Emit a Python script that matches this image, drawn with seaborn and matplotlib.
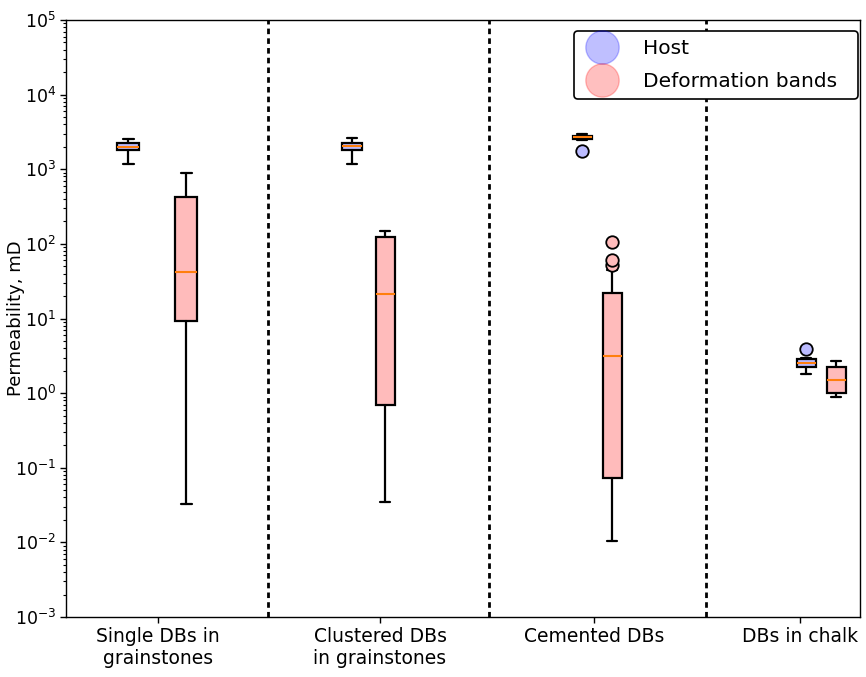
import matplotlib
matplotlib.use("Agg")
import matplotlib.pyplot as plt
import seaborn as sns
from matplotlib.lines import Line2D

# --- data ---
groups = ["Single DBs in\ngrainstones", "Clustered DBs\nin grainstones", "Cemented DBs", "DBs in chalk"]

host_whislo = [1170, 1170, 2500, 1.8]
host_q1 = [1800, 1800, 2560, 2.25]
host_med = [2000, 2050, 2700, 2.55]
host_q3 = [2250, 2250, 2800, 2.9]
host_whishi = [2550, 2600, 3000, 3.0]
host_fliers = [[], [], [1750], [3.9]]

db_whislo = [0.033, 0.035, 0.0105, 0.88]
db_q1 = [9.3, 0.7, 0.073, 1.0]
db_med = [42, 21, 3.1, 1.5]
db_q3 = [430, 125, 22, 2.25]
db_whishi = [900, 150, 45, 2.7]
db_fliers = [[], [], [52, 60, 105], []]

# layout (x in units of 100 px from the left spine)
host_pos = [0.62, 2.86, 5.16, 7.40]
db_pos = [1.20, 3.19, 5.46, 7.70]
box_w = [0.22, 0.19, 0.19, 0.19]
tick_pos = [0.92, 3.14, 5.28, 7.34]
sep_pos = [2.02, 4.23, 6.40]

host_color = "#bbbbff"
db_color = "#ffbbbb"


def make_stats(lo, q1, med, q3, hi, fl):
    return [dict(whislo=a, q1=b, med=c, q3=d, whishi=e, fliers=f)
            for a, b, c, d, e, f in zip(lo, q1, med, q3, hi, fl)]


sns.set_style("ticks")
plt.rcParams["font.family"] = ["DejaVu Sans"]
plt.rcParams["text.color"] = "black"
plt.rcParams["axes.labelcolor"] = "black"
plt.rcParams["xtick.color"] = "black"
plt.rcParams["ytick.color"] = "black"

fig = plt.figure(figsize=(8.66, 6.77), dpi=100)
ax = fig.add_axes([66 / 866, 60 / 677, 794 / 866, 597 / 677])

for stats, pos, col in [
    (make_stats(host_whislo, host_q1, host_med, host_q3, host_whishi, host_fliers), host_pos, host_color),
    (make_stats(db_whislo, db_q1, db_med, db_q3, db_whishi, db_fliers), db_pos, db_color),
]:
    ax.bxp(stats, positions=pos, widths=box_w, patch_artist=True, manage_ticks=False,
           boxprops=dict(facecolor=col, edgecolor="black", linewidth=1.6),
           medianprops=dict(color="#ff7f0e", linewidth=1.5),
           whiskerprops=dict(color="black", linewidth=1.6),
           capprops=dict(color="black", linewidth=1.6),
           flierprops=dict(marker="o", markerfacecolor=col, markeredgecolor="black",
                           markersize=9, markeredgewidth=1.3))

for x in sep_pos:
    ax.axvline(x, color="black", linestyle=(0, (2, 1.5)), linewidth=2)

ax.set_yscale("log")
ax.set_ylim(1e-3, 1e5)
ax.set_xlim(0, 7.94)
ax.set_xticks(tick_pos)
ax.set_xticklabels(groups, fontsize=13.5)
ax.tick_params(axis="x", pad=3)
ax.tick_params(axis="y", labelsize=12.5, pad=3)
ax.tick_params(axis="both", which="major", length=4, width=1)
ax.tick_params(axis="y", which="minor", length=2.5, width=0.8)
ax.set_ylabel("Permeability, mD", fontsize=13)
ax.yaxis.set_label_coords(-0.052, 0.5)
for s in ax.spines.values():
    s.set_linewidth(1.0)
    s.set_color("black")

handles = [
    Line2D([], [], linestyle="none", marker="o", markersize=24, color="blue", alpha=0.25),
    Line2D([], [], linestyle="none", marker="o", markersize=24, color="red", alpha=0.25),
]
leg = ax.legend(handles, ["Host", "Deformation bands  "], loc="upper right",
                bbox_to_anchor=(0.997, 0.982), borderaxespad=0, fontsize=14.5,
                frameon=True, framealpha=1, edgecolor="black", labelspacing=0.7,
                handletextpad=1.0, borderpad=0.4, fancybox=True)
leg.get_frame().set_linewidth(1.2)

fig.savefig("out.png", dpi=100)
